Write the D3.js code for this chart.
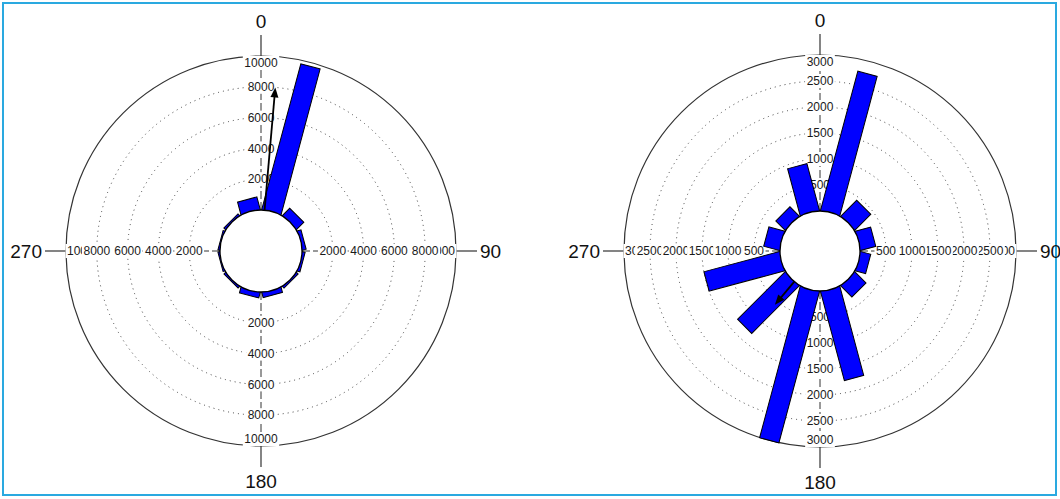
<!DOCTYPE html>
<html>
<head>
<meta charset="utf-8">
<script src="https://cdn.jsdelivr.net/npm/d3@7"></script>
<style>
  html, body { margin: 0; padding: 0; background: #fff; }
  svg { display: block; }
</style>
</head>
<body>
<svg id="chart" width="1060" height="499"></svg>
<script>
// Direction bins, degrees clockwise from north, 30 degrees wide
const binCenters = [15, 45, 75, 105, 135, 165, 195, 225, 255, 285, 315, 345];

// Counts per bin for each rose
const countsA = [9750, 620, 200, 130, 100, 300, 320, 90, 60, 60, 100, 800];
const countsB = [2760, 420, 290, 190, 290, 1760, 3000, 1280, 1490, 300, 240, 920];

// Radial tick values (last value is the outer ring)
const ticksA = [2000, 4000, 6000, 8000, 10000];
const ticksB = [500, 1000, 1500, 2000, 2500, 3000];

// Mean direction and resultant length
const meanDirA = 5, meanLenA = 8000;
const meanDirB = 220, meanLenB = 580;

// Compass labels around each rose
const compassLabels = ["0", "90", "180", "270"];
const compassAngles = [0, 90, 180, 270];

const svg = d3.select("#chart");
const FONT = "'Liberation Sans', Arial, sans-serif";

// Frame around the figure
svg.append("rect")
  .attr("x", 3).attr("y", 3).attr("width", 1053).attr("height", 492)
  .attr("fill", "none").attr("stroke", "#2aa9e0").attr("stroke-width", 2);

function polar(r, deg) {
  const a = deg * Math.PI / 180;
  return [r * Math.sin(a), -r * Math.cos(a)];
}

function drawRose(cfg) {
  const { cx, cy, R, r0, counts, ticks, meanDir, meanLen } = cfg;
  const maxV = ticks[ticks.length - 1];
  const r = d3.scaleLinear().domain([0, maxV]).range([r0, R]);
  const g = svg.append("g").attr("transform", `translate(${cx},${cy})`);

  // dotted rings at each inner tick
  g.selectAll("circle.ring")
    .data(ticks.slice(0, -1))
    .join("circle")
    .attr("class", "ring")
    .attr("r", d => r(d))
    .attr("fill", "none")
    .attr("stroke", "#404040")
    .attr("stroke-width", 1)
    .attr("stroke-dasharray", "1,4");

  // dashed axes along the four compass directions
  compassAngles.forEach(a => {
    const p1 = polar(r0, a), p2 = polar(R, a);
    g.append("line")
      .attr("x1", p1[0]).attr("y1", p1[1]).attr("x2", p2[0]).attr("y2", p2[1])
      .attr("stroke", "#333").attr("stroke-width", 1)
      .attr("stroke-dasharray", "8,3");
  });

  // outer ring
  g.append("circle").attr("r", R)
    .attr("fill", "none").attr("stroke", "#333").attr("stroke-width", 1.2);

  // compass ticks and labels
  compassAngles.forEach((a, i) => {
    const p1 = polar(R, a), p2 = polar(R + 21, a);
    g.append("line")
      .attr("x1", p1[0]).attr("y1", p1[1]).attr("x2", p2[0]).attr("y2", p2[1])
      .attr("stroke", "#333").attr("stroke-width", 1.2);
    const t = g.append("text")
      .attr("font-family", FONT).attr("font-size", 19).attr("fill", "#111")
      .text(compassLabels[i]);
    if (a === 0) {
      t.attr("x", 0).attr("y", -R - 28).attr("text-anchor", "middle");
    } else if (a === 180) {
      t.attr("x", 0).attr("y", R + 42).attr("text-anchor", "middle");
    } else if (a === 90) {
      t.attr("x", R + 24).attr("y", 0).attr("dy", "0.35em").attr("text-anchor", "start");
    } else {
      t.attr("x", -R - 24).attr("y", 0).attr("dy", "0.35em").attr("text-anchor", "end");
    }
  });

  // radial tick labels on white boxes, outermost first
  compassAngles.forEach(a => {
    const horizontal = (a === 90 || a === 270);
    ticks.slice().reverse().forEach(v => {
      const lg = g.append("g");
      const bg = lg.append("rect").attr("fill", "#fff");
      const t = lg.append("text")
        .attr("font-family", FONT).attr("font-size", 12).attr("fill", "#1a1a1a")
        .attr("text-anchor", "middle").attr("dy", "0.35em")
        .text(v);
      const w = t.node().getComputedTextLength();
      let off = r(v);
      off = horizontal ? Math.min(off, R - w / 2 - 1) : Math.min(off, R - 7);
      const [x, y] = polar(off, a);
      t.attr("x", x).attr("y", y);
      bg.attr("x", x - w / 2 - 1.5).attr("y", y - 7)
        .attr("width", w + 3).attr("height", 14);
    });
  });

  // bars: fixed-width rectangles from the hub out to each count
  const inner = r0 - 12;
  g.selectAll("rect.bar")
    .data(binCenters.map((d, i) => ({ dir: d, v: counts[i] })))
    .join("rect")
    .attr("class", "bar")
    .attr("x", -10)
    .attr("y", d => -r(d.v))
    .attr("width", 20)
    .attr("height", d => r(d.v) - inner)
    .attr("transform", d => `rotate(${d.dir})`)
    .attr("fill", "#0000ff")
    .attr("stroke", "#000")
    .attr("stroke-width", 1);

  // hub
  g.append("circle").attr("r", r0)
    .attr("fill", "#fff").attr("stroke", "#000").attr("stroke-width", 1.3);

  // mean vector arrow
  const tipR = r(meanLen), head = 10, hw = 4;
  const aG = g.append("g").attr("transform", `rotate(${meanDir})`);
  aG.append("line")
    .attr("x1", 0).attr("y1", -r0).attr("x2", 0).attr("y2", -(tipR - head + 1))
    .attr("stroke", "#000").attr("stroke-width", 1.8);
  aG.append("path")
    .attr("d", `M0,${-tipR} L${hw},${-(tipR - head)} L${-hw},${-(tipR - head)} Z`)
    .attr("fill", "#000");
}

drawRose({ cx: 261, cy: 251, R: 195, r0: 41, counts: countsA, ticks: ticksA, meanDir: meanDirA, meanLen: meanLenA });
drawRose({ cx: 820, cy: 251, R: 196, r0: 40, counts: countsB, ticks: ticksB, meanDir: meanDirB, meanLen: meanLenB });
</script>
</body>
</html>
